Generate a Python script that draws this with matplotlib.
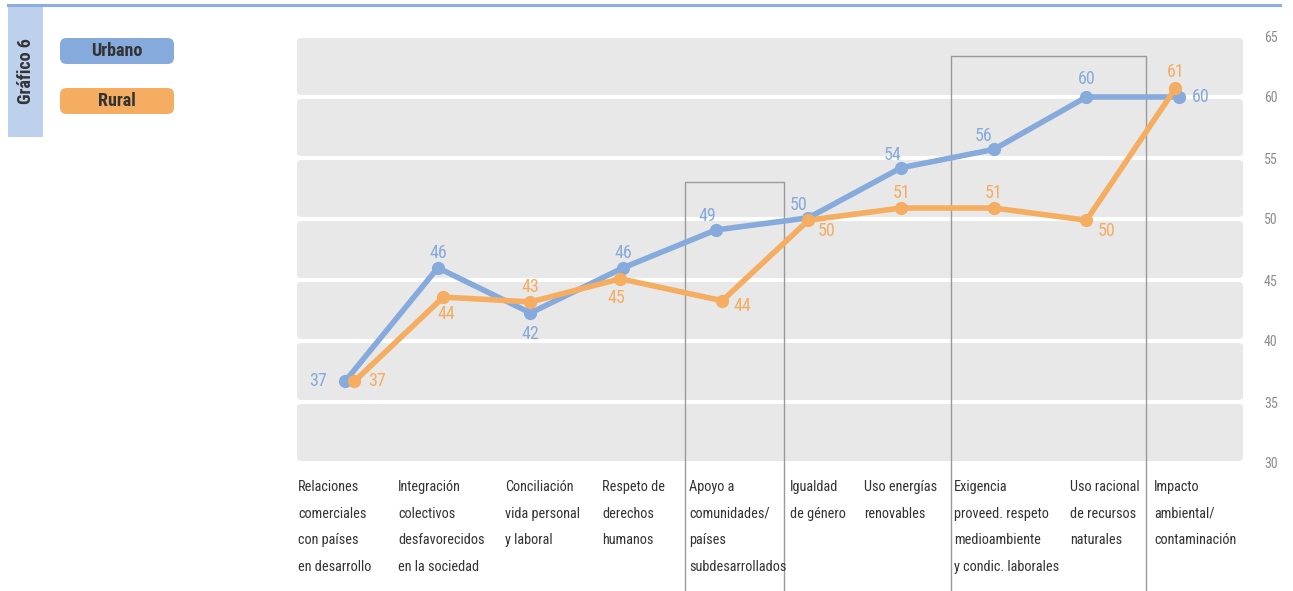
import numpy as np
import matplotlib
matplotlib.use("Agg")
import matplotlib.pyplot as plt
from matplotlib.patches import FancyBboxPatch, Rectangle
from matplotlib.lines import Line2D

plt.rcParams["font.family"] = ["Roboto Condensed", "Open Sans Condensed", "DejaVu Sans"]

categories = [
    "Relaciones\ncomerciales\ncon países\nen desarrollo",
    "Integración\ncolectivos\ndesfavorecidos\nen la sociedad",
    "Conciliación\nvida personal\ny laboral",
    "Respeto de\nderechos\nhumanos",
    "Apoyo a\ncomunidades/\npaíses\nsubdesarrollados",
    "Igualdad\nde género",
    "Uso energías\nrenovables",
    "Exigencia\nproveed. respeto\nmedioambiente\ny condic. laborales",
    "Uso racional\nde recursos\nnaturales",
    "Impacto\nambiental/\ncontaminación",
]
urbano = [36.7, 46.0, 42.3, 46.0, 49.1, 50.1, 54.2, 55.7, 60.0, 60.0]
rural = [36.7, 43.6, 43.2, 45.1, 43.3, 49.9, 50.9, 50.9, 49.9, 60.7]
urbano_labels = [37, 46, 42, 46, 49, 50, 54, 56, 60, 60]
rural_labels = [37, 44, 43, 45, 44, 50, 51, 51, 50, 61]
y_ticks = [30, 35, 40, 45, 50, 55, 60, 65]

URB = "#86aadc"
RUR = "#f5ad61"
TXT = "#333333"

W, H = 1293, 591
fig = plt.figure(figsize=(W / 100, H / 100), dpi=100)
ax = fig.add_axes([297 / W, (H - 463) / H, (1243 - 297) / W, (463 - 36) / H])
x = np.arange(len(categories))
ax.set_xlim(-0.52, 9.69)
ax.set_ylim(30, 65)
for s in ax.spines.values():
    s.set_visible(False)
ax.set_xticks([])
ax.yaxis.tick_right()
ax.set_yticks(y_ticks)
ax.tick_params(axis="y", length=0, pad=15, labelsize=10, labelcolor="#8c8c8c")

# gray bands with rounded corners (axes coords)
asp = 946 / 427
for lo in y_ticks[:-1]:
    y0 = (lo - 30 + 0.17) / 35
    h = (5 - 0.34) / 35
    ax.add_patch(FancyBboxPatch((0, y0), 1, h, boxstyle="round,pad=0,rounding_size=0.004",
                                mutation_aspect=asp, transform=ax.transAxes,
                                facecolor="#e7e8e7", edgecolor="none", zorder=0))

# highlight boxes
for x0, x1, top in [(3.67, 4.74, 53.0), (6.54, 8.64, 63.4)]:
    ax.plot([x0, x0, x1, x1], [19, top, top, 19], color="#9a9a9a", lw=1,
            clip_on=False, zorder=1)

ax.plot(x, urbano, color=URB, lw=4, marker="o", ms=8.5, zorder=3, solid_joinstyle="round")
rx = x + np.array([0.1, 0.06, 0, -0.03, 0.07, 0, 0, 0, 0, -0.04])
ax.plot(rx, rural, color=RUR, lw=4, marker="o", ms=8.5, zorder=4, solid_joinstyle="round")

# label offsets in points
u_off = [(-13, 0, "right"), (0, 11, "center"), (0, -15, "center"), (0, 11, "center"),
         (-6, 10, "center"), (-7, 9, "center"), (-6, 9, "center"), (-7, 10, "center"),
         (0, 13, "center"), (9, 0, "left")]
r_off = [(10, 0, "left"), (2, -12, "center"), (0, 11, "center"), (-3, -14, "center"),
         (8, -4, "left"), (7, -8, "left"), (0, 11, "center"), (0, 11, "center"),
         (8, -8, "left"), (0, 12, "center")]
for xi, v, lab, (dx, dy, ha) in zip(x, urbano, urbano_labels, u_off):
    ax.annotate(str(lab), (xi, v), xytext=(dx, dy), textcoords="offset points",
                ha=ha, va="center", color=URB, fontsize=13, zorder=5)
for xi, v, lab, (dx, dy, ha) in zip(rx, rural, rural_labels, r_off):
    ax.annotate(str(lab), (xi, v), xytext=(dx, dy), textcoords="offset points",
                ha=ha, va="center", color=RUR, fontsize=13, zorder=5)

# category labels
label_left = [298, 398, 505, 602, 689, 790, 864, 954, 1070, 1154]
for px, lab in zip(label_left, categories):
    fig.text(px / W, 1 - 480 / H, lab, ha="left", va="top", fontsize=10.3,
             color=TXT, linespacing=2.15)

# header decorations
fig.add_artist(Line2D([8 / W, 1280 / W], [1 - 4.5 / H, 1 - 4.5 / H], color="#8aaedf", lw=2.2))
fig.add_artist(Rectangle((8 / W, 1 - 137 / H), 35 / W, 131 / H, transform=fig.transFigure,
                         facecolor="#bdd0ec", edgecolor="none"))
fig.text(26 / W, 1 - 71 / H, "Gráfico 6", rotation=90, ha="center", va="center",
         fontsize=13, fontweight="bold", color=TXT)

for ytop, name, col in [(38, "Urbano", URB), (88, "Rural", RUR)]:
    fig.add_artist(FancyBboxPatch((60 / W, 1 - (ytop + 26) / H), 114 / W, 26 / H,
                                  boxstyle="round,pad=0,rounding_size=0.005",
                                  mutation_aspect=W / H, transform=fig.transFigure,
                                  facecolor=col, edgecolor="none"))
    fig.text(117 / W, 1 - (ytop + 13) / H, name, ha="center", va="center",
             fontsize=13, fontweight="bold", color=TXT)

fig.savefig("out.png", dpi=100)
